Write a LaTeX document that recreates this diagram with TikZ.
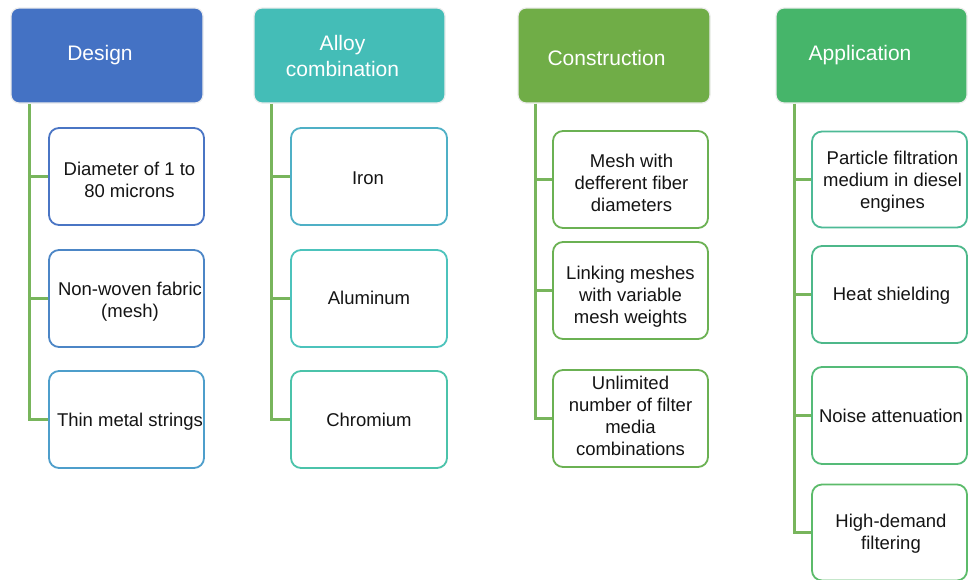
\documentclass[tikz,border=0pt]{standalone}
\usepackage{fontspec}
\setmainfont{Liberation Sans}
\definecolor{designblue}{HTML}{4472C4}
\definecolor{alloyteal}{HTML}{44BDB7}
\definecolor{constgreen}{HTML}{70AD47}
\definecolor{appgreen}{HTML}{46B56A}
\definecolor{linkgreen}{HTML}{78B55C}
\definecolor{dA}{HTML}{4A75C4}
\definecolor{dB}{HTML}{4C86C6}
\definecolor{dC}{HTML}{4E9ECB}
\definecolor{aA}{HTML}{4FB0C6}
\definecolor{aB}{HTML}{4CC3BC}
\definecolor{aC}{HTML}{4BC3AA}
\definecolor{cA}{HTML}{6BB153}
\definecolor{pA}{HTML}{4DBA96}
\definecolor{pB}{HTML}{4DB88A}
\definecolor{pC}{HTML}{55BB78}
\definecolor{pD}{HTML}{5CBB6A}
\tikzset{
  hdr/.style={rounded corners=8pt, inner sep=0pt, minimum height=95pt,
    draw=black!7, line width=1.2pt},
  hdrtext/.style={text=white, align=center, inner sep=0pt,
    font=\fontsize{21}{25.5}\selectfont},
  item/.style={draw=#1, line width=1.8pt, rounded corners=10pt, fill=white,
    inner sep=0pt, minimum width=155pt, minimum height=97pt},
  itext/.style={align=center, inner sep=0pt, text=black!92,
    font=\fontsize{18.5}{22}\selectfont},
  link/.style={draw=linkgreen, line width=2.4pt},
}
\begin{document}
\begin{tikzpicture}[x=1pt, y=-1pt]
\useasboundingbox (0,0) rectangle (968,579);
\clip (0,0) rectangle (968,579);

% column headers
\node[hdr, fill=designblue, minimum width=192pt] (h1) at (107,55.5) {};
\node[hdr, fill=alloyteal, minimum width=191pt] (h2) at (349.5,55.5) {};
\node[hdr, fill=constgreen, minimum width=192pt] (h3) at (614,55.5) {};
\node[hdr, fill=appgreen, minimum width=191pt] (h4) at (871.5,55.5) {};

\node[hdrtext] (h1t) at ([shift={(-7,-0.5)}]h1.center) {Design};
\node[hdrtext] (h2t) at ([shift={(-7,0.5)}]h2.center) {Alloy\\combination};
\node[hdrtext] (h3t) at ([shift={(-7.5,2.5)}]h3.center) {Construction};
\node[hdrtext] (h4t) at ([shift={(-11.5,-0.5)}]h4.center) {Application};

% trunk starting points below each header
\coordinate (t1) at ([xshift=19pt]h1.south west);
\coordinate (t2) at ([xshift=18pt]h2.south west);
\coordinate (t3) at ([xshift=18pt]h3.south west);
\coordinate (t4) at ([xshift=19pt]h4.south west);

% boxes
\node[item=dA] (d1) at (126.5,176.5) {};
\node[item=dB] (d2) at (126.5,298.5) {};
\node[item=dC] (d3) at (126.5,419.5) {};

\node[item=aA, minimum width=156pt] (a1) at (369,176.5) {};
\node[item=aB, minimum width=156pt] (a2) at (369,298.5) {};
\node[item=aC, minimum width=156pt] (a3) at (369,419.5) {};

\node[item=cA] (c1) at (630.5,179.5) {};
\node[item=cA] (c2) at (630.5,290.5) {};
\node[item=cA] (c3) at (630.5,418.5) {};

\node[item=pA, minimum height=96pt] (p1) at (889.5,179.5) {};
\node[item=pB] (p2) at (889.5,294.5) {};
\node[item=pC] (p3) at (889.5,415.5) {};
\node[item=pD, minimum height=96pt] (p4) at (889.5,532.5) {};

% box texts
\node[itext] (d1t) at ([shift={(3,3.5)}]d1.center) {Diameter of 1 to\\80 microns};
\node[itext] (d2t) at ([shift={(3.5,3)}]d2.center) {Non-woven fabric\\(mesh)};
\node[itext] (d3t) at ([shift={(3.5,2)}]d3.center) {Thin metal strings};

\node[itext] (a1t) at ([shift={(-1,2)}]a1.center) {Iron};
\node[itext] (a2t) at ([shift={(0,-1)}]a2.center) {Aluminum};
\node[itext] (a3t) at (a3.center) {Chromium};

\node[itext] (c1t) at ([shift={(1,3)}]c1.center) {Mesh with\\defferent fiber\\diameters};
\node[itext] (c2t) at ([shift={(0,6)}]c2.center) {Linking meshes\\with variable\\mesh weights};
\node[itext] (c3t) at ([shift={(0,-2.5)}]c3.center) {Unlimited\\number of filter\\media\\combinations};

\node[itext] (p1t) at ([shift={(3,2.5)}]p1.center) {Particle filtration\\medium in diesel\\engines};
\node[itext] (p2t) at ([shift={(2,1.5)}]p2.center) {Heat shielding};
\node[itext] (p3t) at ([shift={(1.5,0)}]p3.center) {Noise attenuation};
\node[itext] (p4t) at ([shift={(1.5,1.5)}]p4.center) {High-demand\\filtering};

% connectors: a trunk under each header with a branch to every box
\draw[link] (t1) |- (d3.west);
\draw[link] (d1.west) -- (d1.west -| t1);
\draw[link] (d2.west) -- (d2.west -| t1);

\draw[link] (t2) |- (a3.west);
\draw[link] (a1.west) -- (a1.west -| t2);
\draw[link] (a2.west) -- (a2.west -| t2);

\draw[link] (t3) |- (c3.west);
\draw[link] (c1.west) -- (c1.west -| t3);
\draw[link] (c2.west) -- (c2.west -| t3);

\draw[link] (t4) |- (p4.west);
\draw[link] (p1.west) -- (p1.west -| t4);
\draw[link] (p2.west) -- (p2.west -| t4);
\draw[link] (p3.west) -- (p3.west -| t4);
\end{tikzpicture}
\end{document}
